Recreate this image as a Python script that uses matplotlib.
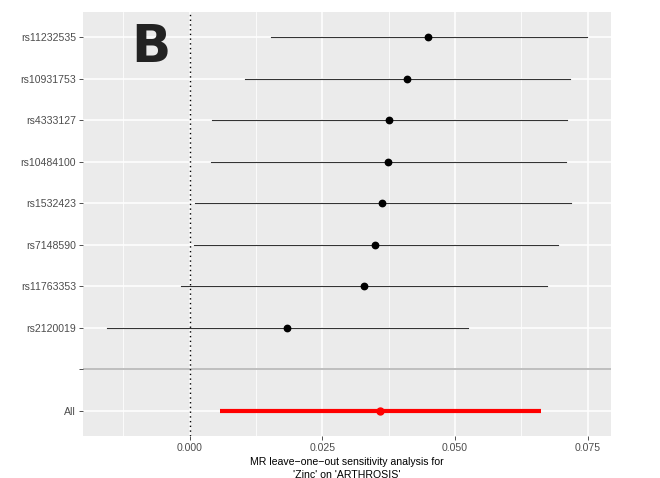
import matplotlib
matplotlib.use("Agg")
import matplotlib.pyplot as plt
import numpy as np

snps = ["rs11232535", "rs10931753", "rs4333127", "rs10484100", "rs1532423",
        "rs7148590", "rs11763353", "rs2120019", "", "All"]
b = [0.04498, 0.04102, 0.03763, 0.03744, 0.03631, 0.03499, 0.03280, 0.01834, None, 0.03594]
lo = [0.01527, 0.01049, 0.00420, 0.00400, 0.00094, 0.00075, -0.00164, -0.01559, None, 0.00579]
up = [0.07489, 0.07175, 0.07112, 0.07093, 0.07188, 0.06948, 0.06741, 0.05240, None, 0.06622]
xticks = [0.000, 0.025, 0.050, 0.075]
xticklabels = ["0.000", "0.025", "0.050", "0.075"]
xlabel = "MR leave\u2212one\u2212out sensitivity analysis for\n'Zinc' on 'ARTHROSIS'"

plt.rcParams['font.family'] = ['Liberation Sans', 'DejaVu Sans']

W, H = 660, 478
fig = plt.figure(figsize=(W / 100, H / 100), dpi=100)
ax = fig.add_axes([83 / W, (H - 436) / H, 528 / W, 424 / H])
ax.set_facecolor("#EBEBEB")
for s in ax.spines.values():
    s.set_visible(False)

n = len(snps)
ypos = np.arange(n, 0, -1)  # top row highest

ax.set_xlim(-0.02011, 0.07942)
ax.set_ylim(0.4, n + 0.6)

# grid
minor = [-0.0125, 0.0125, 0.0375, 0.0625]
for xm in minor:
    ax.axvline(xm, color="white", lw=0.55, zorder=0)
for xM in xticks:
    ax.axvline(xM, color="white", lw=1.1, zorder=0)
for y in ypos:
    ax.axhline(y, color="white", lw=1.1, zorder=0)

# blank row grey line
blank_idx = snps.index("")
ax.axhline(ypos[blank_idx], color="#BEBEBE", lw=1.4, zorder=1)

# zero line
ax.axvline(0, color="black", lw=1.0, ls=(0, (1, 2.4)), zorder=2)

for i, name in enumerate(snps):
    if name == "":
        continue
    y = ypos[i]
    if name == "All":
        ax.plot([lo[i], up[i]], [y, y], color="red", lw=3.0, solid_capstyle="butt", zorder=3)
        ax.plot([b[i]], [y], "o", color="red", ms=5.0, zorder=4)
    else:
        ax.plot([lo[i], up[i]], [y, y], color="#333333", lw=0.8, zorder=3)
        ax.plot([b[i]], [y], "o", color="black", ms=4.6, zorder=4)

ax.set_yticks(ypos)
ax.set_yticklabels(snps)
ax.set_xticks(xticks)
ax.set_xticklabels(xticklabels)
ax.tick_params(axis="both", colors="#333333", length=3, width=0.6, labelsize=7.6,
               labelcolor="#4D4D4D", pad=2)
ax.set_xlabel(xlabel, fontsize=7.6, color="black", labelpad=3, linespacing=1.3)

fig.text(151 / W, 1 - 48 / H, "B", fontsize=37, fontweight="bold", color="#222222",
         ha="center", va="center", family="DejaVu Sans")

fig.savefig("out.png", dpi=100, facecolor="white")
